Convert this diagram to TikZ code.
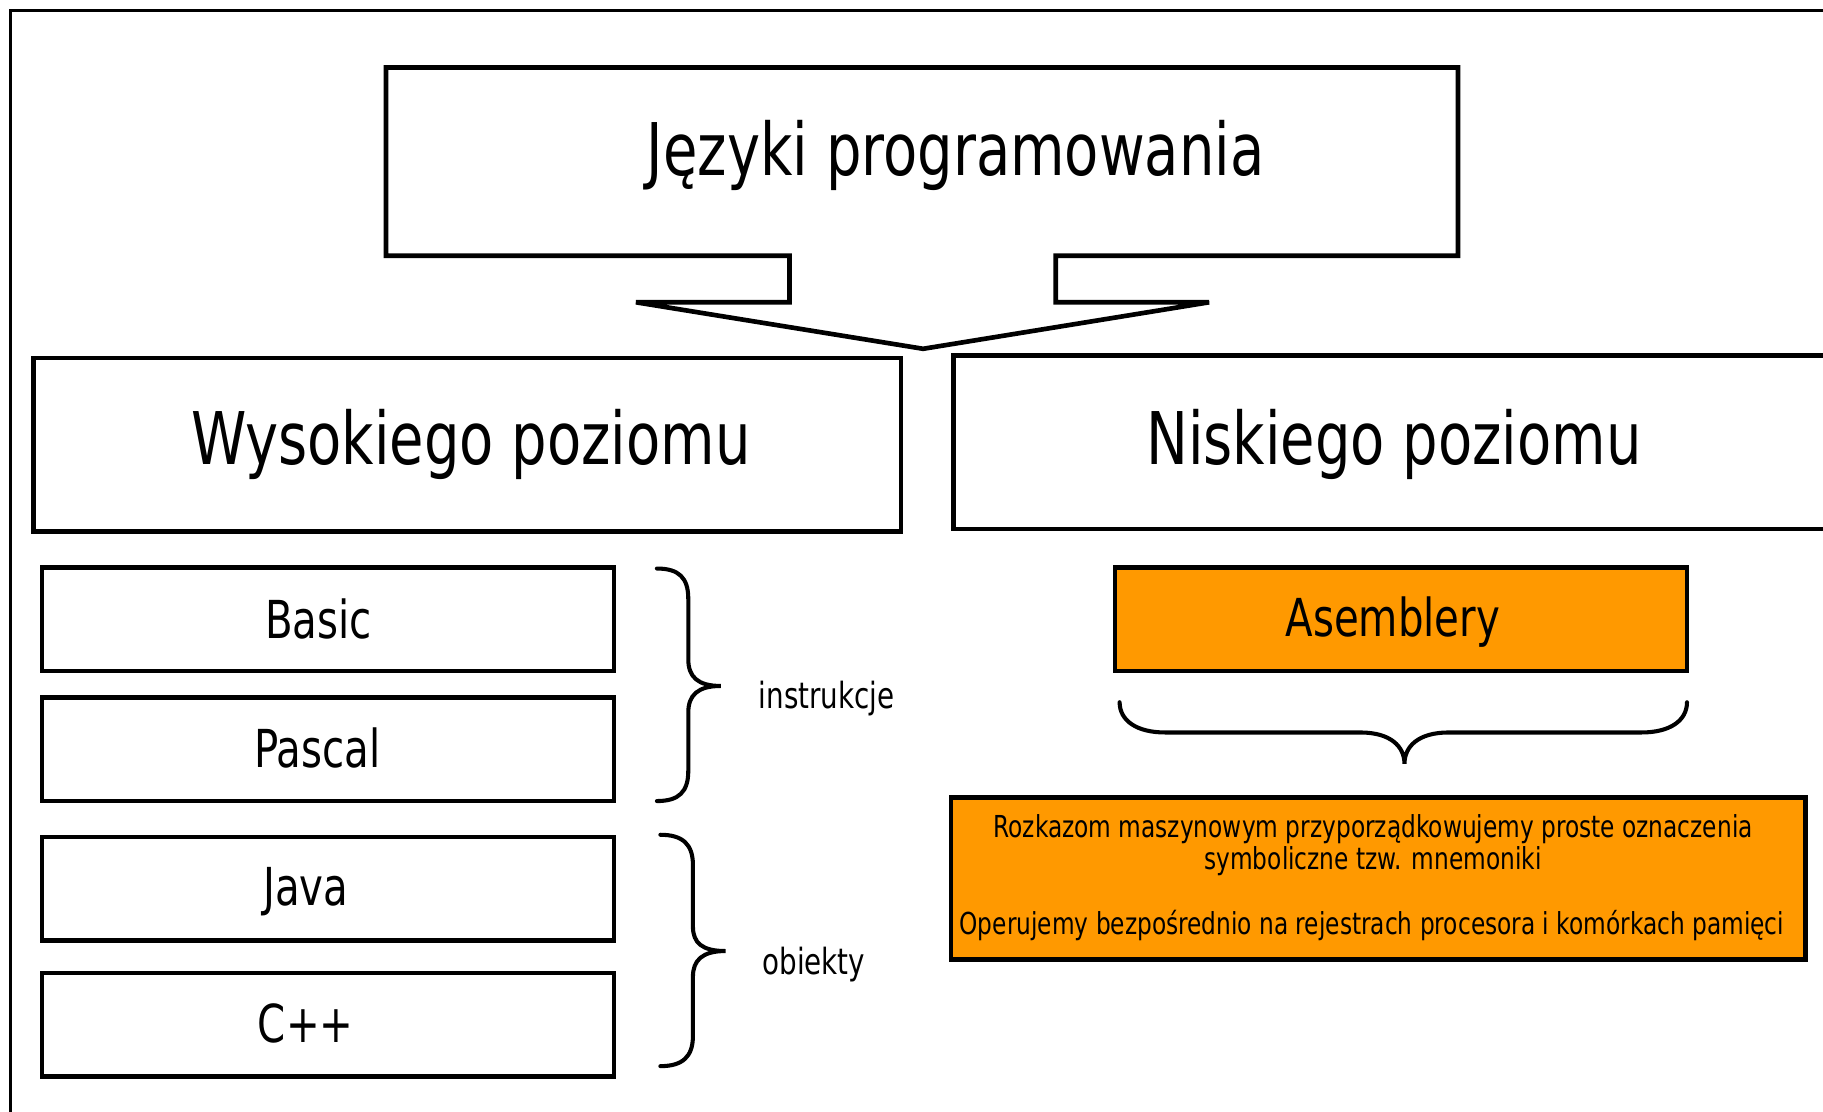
\documentclass[tikz,border=0pt]{standalone}
\usepackage{fontspec}
\setmainfont{DejaVu Sans}[FakeStretch=0.77]
\definecolor{asmorange}{HTML}{FF9900}
\tikzset{
  box/.style={draw=black, line width=4pt, rectangle, inner sep=0pt},
  bigtxt/.style={font=\fontsize{62.5}{70}\selectfont, inner sep=0pt},
  midtxt/.style={font=\fontsize{45}{50}\selectfont, inner sep=0pt},
  smalltxt/.style={font=\fontsize{31}{36}\selectfont, inner sep=0pt},
  tinytxt/.style={font=\fontsize{26}{28}\selectfont, inner sep=0pt, align=center},
  bracepath/.style={draw=black, line width=3.5pt, line cap=round}
}
\begin{document}
\begin{tikzpicture}[x=1pt,y=-1pt]
\useasboundingbox (0,0) rectangle (1568,956);
\clip (0,0) rectangle (1568,956);
\fill[white] (0,0) rectangle (1568,956);
% outer frame
\draw[line width=3pt] (9,1100) -- (9,9) -- (1700,9);
% top callout
\draw[line width=4pt, line join=miter] (332,58) -- (1254,58) -- (1254,220) -- (908,220) -- (908,260) -- (1040,260) -- (794,300) -- (547,260) -- (679,260) -- (679,220) -- (332,220) -- cycle;
\node[bigtxt] (title) at (822,134) {Języki programowania};
% level boxes
\node[box, minimum width=746pt, minimum height=149pt] (high) at (402,382.5) {};
\node[bigtxt] (hightxt) at (405,382) {Wysokiego poziomu};
\node[box, minimum width=760pt, minimum height=149pt] (low) at (1200,380.5) {};
\node[bigtxt] (lowtxt) at (1199,382) {Niskiego poziomu};
% language boxes
\node[box, minimum width=492pt, minimum height=89pt] (basic) at (282,532.5) {};
\node[midtxt] at (274,532) {Basic};
\node[box, minimum width=492pt, minimum height=89pt] (pascal) at (282,644.5) {};
\node[midtxt] at (273,643) {Pascal};
\node[box, minimum width=492pt, minimum height=89pt] (java) at (282,764.5) {};
\node[midtxt] at (263,767) {Java};
\node[box, minimum width=492pt, minimum height=89pt] (cpp) at (282,881.5) {};
\node[midtxt] at (263,880) {C++};
% braces left
\draw[bracepath] (565,489) .. controls (584,489) and (592,497) .. (592,515) -- (592,567) .. controls (592,582) and (600,590) .. (620,590) .. controls (600,590) and (592,598) .. (592,613) -- (592,663) .. controls (592,681) and (584,689) .. (565,689);
\node[smalltxt] (instr) at (711,601) {instrukcje};
\draw[bracepath] (568,718) .. controls (587,718) and (596,726) .. (596,744) -- (596,797) .. controls (596,811) and (604,818) .. (624,818) .. controls (604,818) and (596,826) .. (596,840) -- (596,891) .. controls (596,909) and (587,917) .. (568,917);
\node[smalltxt] (obj) at (700,830) {obiekty};
% Asemblery
\node[box, fill=asmorange, minimum width=492pt, minimum height=89pt] (asm) at (1205,532.5) {};
\node[midtxt] at (1198,535) {Asemblery};
% horizontal brace
\draw[bracepath] (963,604) .. controls (963,620) and (978,630) .. (1002,630) -- (1170,630) .. controls (1196,630) and (1208,642) .. (1208,657) .. controls (1208,642) and (1220,630) .. (1246,630) -- (1412,630) .. controls (1436,630) and (1451,620) .. (1451,604);
% description box
\node[box, fill=asmorange, minimum width=735pt, minimum height=139pt] (desc) at (1185.5,755.5) {};
\node[tinytxt] at (1181,727) {Rozkazom maszynowym przyporządkowujemy proste oznaczenia\\symboliczne tzw. mnemoniki};
\node[tinytxt] at (1180,796) {Operujemy bezpośrednio na rejestrach procesora i komórkach pamięci};
\end{tikzpicture}
\end{document}
